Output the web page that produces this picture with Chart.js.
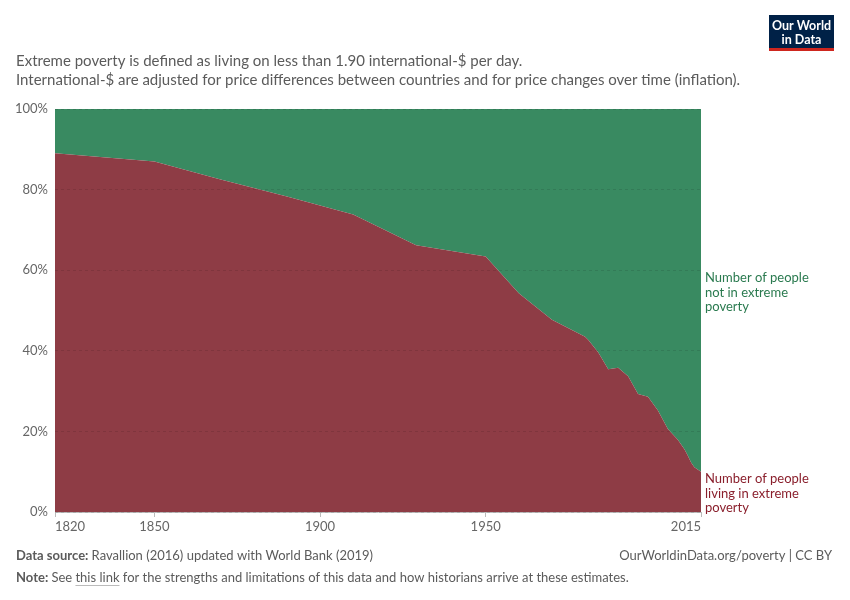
<!DOCTYPE html>
<html>
<head>
  <script src="https://cdn.jsdelivr.net/npm/chart.js"></script>
  <style>
    body { margin: 0; background: #fff; }
  </style>
</head>
<body>
<canvas id="povertyChart" width="850" height="600"></canvas>
<script>
// share of world population living in extreme poverty (%)
const years = [1820, 1850, 1870, 1890, 1910, 1929, 1950, 1960, 1970, 1980, 1981, 1984, 1987, 1990, 1993, 1996, 1999, 2002, 2005, 2008, 2010, 2011, 2012, 2013, 2015];
const povertyShare = [89.0, 87.0, 82.5, 78.3, 73.8, 66.2, 63.4, 54.3, 47.7, 43.5, 42.7, 39.6, 35.4, 35.8, 33.7, 29.3, 28.6, 25.2, 20.6, 17.9, 15.6, 14.0, 12.3, 11.1, 10.0];
const notPovertyShare = povertyShare.map(v => 100 - v);
const xTicks = [1820, 1850, 1900, 1950, 2015];
const yTicks = [0, 20, 40, 60, 80, 100];

const povertyColor = '#8e3c45';
const notPovertyColor = '#398a61';
const font = 'Lato, "DejaVu Sans", sans-serif';

let ctx = document.getElementById('povertyChart').getContext('2d');

const textPlugin = {
  id: 'owidText',
  afterDraw(chart) {
    const c = chart.ctx;
    c.save();
    c.textBaseline = 'alphabetic';
    c.textAlign = 'left';

    // subtitle
    c.fillStyle = '#5b5b5b';
    c.font = '15px ' + font;
    c.fillText('Extreme poverty is defined as living on less than 1.90 international-$ per day.', 16, 66);
    c.fillText('International-$ are adjusted for price differences between countries and for price changes over time (inflation).', 16, 85);

    // logo
    c.fillStyle = '#002147';
    c.fillRect(769, 15, 65, 33);
    c.fillStyle = '#ce261e';
    c.fillRect(769, 48, 65, 3);
    c.fillStyle = '#ffffff';
    c.font = 'bold 12.5px ' + font;
    c.textAlign = 'center';
    c.fillText('Our World', 801.5, 30);
    c.fillText('in Data', 801.5, 44);
    c.textAlign = 'left';

    // series labels
    c.font = '13px ' + font;
    c.fillStyle = '#2a7a4f';
    ['Number of people', 'not in extreme', 'poverty'].forEach((t, i) => c.fillText(t, 705, 282 + i * 14.5));
    c.fillStyle = '#8a1f2c';
    ['Number of people', 'living in extreme', 'poverty'].forEach((t, i) => c.fillText(t, 705, 483 + i * 14.5));

    // footer
    c.fillStyle = '#5b5b5b';
    c.font = 'bold 13px ' + font;
    c.fillText('Data source:', 16, 560);
    let w = c.measureText('Data source: ').width;
    c.font = '13px ' + font;
    c.fillText('Ravallion (2016) updated with World Bank (2019)', 16 + w, 560);
    c.textAlign = 'right';
    c.fillText('OurWorldinData.org/poverty | CC BY', 832, 560);
    c.textAlign = 'left';

    c.font = 'bold 13px ' + font;
    c.fillText('Note:', 16, 582);
    w = c.measureText('Note: ').width;
    c.font = '13px ' + font;
    c.fillText('See ', 16 + w, 582);
    let x = 16 + w + c.measureText('See ').width;
    const link = 'this link';
    c.fillText(link, x, 582);
    const lw = c.measureText(link).width;
    c.strokeStyle = '#bbbbbb';
    c.lineWidth = 1;
    c.beginPath();
    c.moveTo(x, 585.5);
    c.lineTo(x + lw, 585.5);
    c.stroke();
    c.fillText(' for the strengths and limitations of this data and how historians arrive at these estimates.', x + lw, 582);
    c.restore();
  }
};

const chart = new Chart(ctx, {
  type: 'line',
  data: {
    datasets: [{
      label: 'Number of people living in extreme poverty',
      data: years.map((y, i) => ({x: y, y: povertyShare[i]})),
      backgroundColor: povertyColor,
      borderColor: povertyColor,
      borderWidth: 0,
      fill: 'origin',
      pointRadius: 0,
      tension: 0
    }, {
      label: 'Number of people not in extreme poverty',
      data: years.map((y, i) => ({x: y, y: notPovertyShare[i]})),
      backgroundColor: notPovertyColor,
      borderColor: notPovertyColor,
      borderWidth: 0,
      fill: '-1',
      pointRadius: 0,
      tension: 0
    }]
  },
  options: {
    responsive: false,
    animation: false,
    layout: { padding: { top: 109, right: 149, left: 0, bottom: 0 } },
    plugins: {
      legend: { display: false },
      tooltip: { enabled: false }
    },
    scales: {
      x: {
        type: 'linear',
        min: 1820,
        max: 2015,
        afterBuildTicks: scale => { scale.ticks = xTicks.map(v => ({value: v})); },
        afterFit: scale => { scale.height = 88; },
        ticks: {
          color: '#666666',
          font: { family: font, size: 13 },
          align: 'inner',
          maxRotation: 0,
          padding: 2,
          callback: v => String(v)
        },
        grid: {
          drawOnChartArea: false,
          drawTicks: true,
          tickLength: 5,
          color: '#bbbbbb'
        },
        border: { display: true, color: '#bbbbbb' }
      },
      y: {
        stacked: true,
        min: 0,
        max: 100,
        afterBuildTicks: scale => { scale.ticks = yTicks.map(v => ({value: v})); },
        afterFit: scale => { scale.width = 55; },
        ticks: {
          color: '#666666',
          font: { family: font, size: 13 },
          padding: 7,
          callback: v => v + '%'
        },
        grid: {
          z: 1,
          drawTicks: false,
          color: 'rgba(0,0,0,0.10)'
        },
        border: { display: false, dash: [3, 3] }
      }
    }
  },
  plugins: [textPlugin]
});
</script>
</body>
</html>
